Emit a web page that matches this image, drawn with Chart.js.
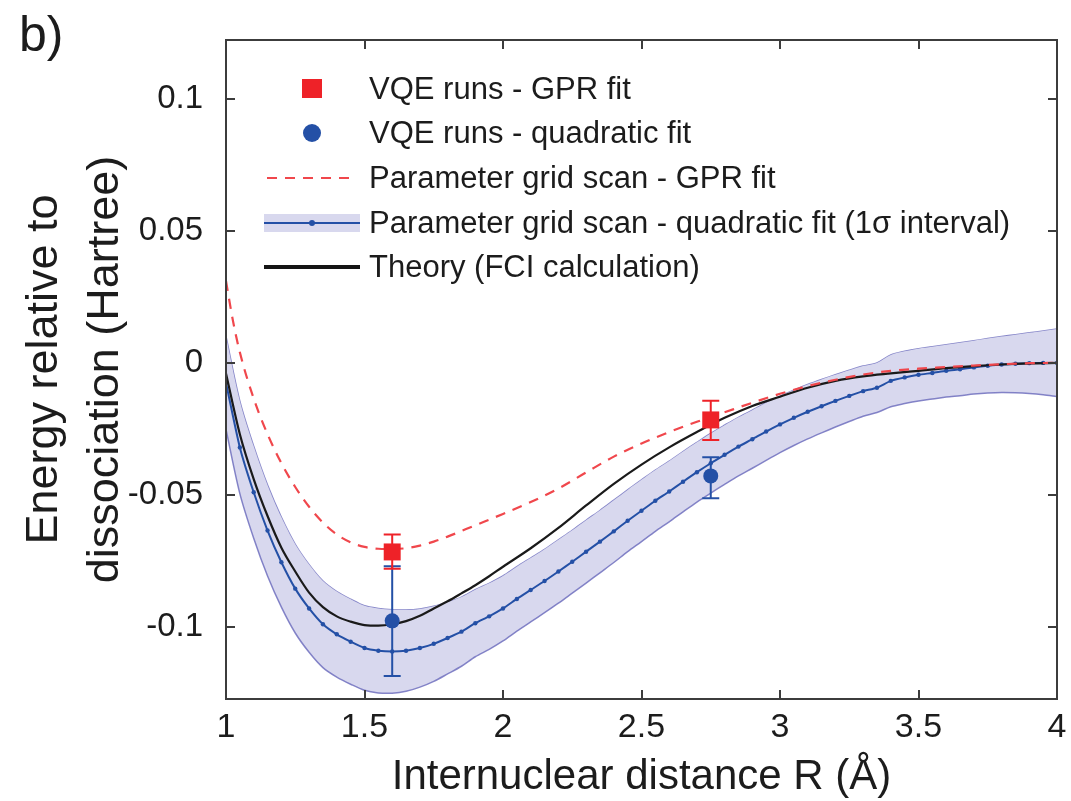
<!DOCTYPE html>
<html>
<head>
<meta charset="utf-8">
<script src="https://cdn.jsdelivr.net/npm/chart.js@4.4.1/dist/chart.umd.min.js"></script>
<style>
  html, body { margin: 0; padding: 0; background: #fff; }
  #wrap { position: relative; width: 1071px; height: 801px; }
</style>
</head>
<body>
<div id="wrap"><canvas id="chart" width="1071" height="801"></canvas></div>
<script>
// Axis ticks
const xTicks = [1, 1.5, 2, 2.5, 3, 3.5, 4];
const xTickLabels = ['1', '1.5', '2', '2.5', '3', '3.5', '4'];
const yTicks = [-0.1, -0.05, 0, 0.05, 0.1];
const yTickLabels = ['-0.1', '-0.05', '0', '0.05', '0.1'];

// Parameter grid scan - quadratic fit, sampled every 0.05 A
const scanR = [1.00, 1.05, 1.10, 1.15, 1.20, 1.25, 1.30, 1.35, 1.40, 1.45,
  1.50, 1.55, 1.60, 1.65, 1.70, 1.75, 1.80, 1.85, 1.90, 1.95,
  2.00, 2.05, 2.10, 2.15, 2.20, 2.25, 2.30, 2.35, 2.40, 2.45,
  2.50, 2.55, 2.60, 2.65, 2.70, 2.75, 2.80, 2.85, 2.90, 2.95,
  3.00, 3.05, 3.10, 3.15, 3.20, 3.25, 3.30, 3.35, 3.40, 3.45,
  3.50, 3.55, 3.60, 3.65, 3.70, 3.75, 3.80, 3.85, 3.90, 3.95, 4.00];
const scanQuad = [-0.0076, -0.0320, -0.0490, -0.0635, -0.0755, -0.0855, -0.0930, -0.0990, -0.1028, -0.1056,
  -0.1080, -0.1090, -0.1093, -0.1090, -0.1080, -0.1064, -0.1042, -0.1018, -0.0986, -0.0960,
  -0.0930, -0.0894, -0.0860, -0.0826, -0.0790, -0.0753, -0.0715, -0.0677, -0.0638, -0.0598,
  -0.0560, -0.0522, -0.0487, -0.0450, -0.0414, -0.0380, -0.0348, -0.0317, -0.0289, -0.0260,
  -0.0233, -0.0208, -0.0185, -0.0164, -0.0144, -0.0125, -0.0107, -0.0094, -0.0068, -0.0055,
  -0.0045, -0.0038, -0.0030, -0.0024, -0.0017, -0.0011, -0.0006, -0.0003, -0.0001, 0.0000, 0.0000];
const scanUpper = [0.0100, -0.0145, -0.0316, -0.0463, -0.0585, -0.0687, -0.0764, -0.0826, -0.0866, -0.0895,
  -0.0920, -0.0930, -0.0935, -0.0936, -0.0932, -0.0922, -0.0906, -0.0887, -0.0859, -0.0835,
  -0.0807, -0.0772, -0.0739, -0.0706, -0.0670, -0.0634, -0.0596, -0.0559, -0.0520, -0.0481,
  -0.0443, -0.0406, -0.0372, -0.0336, -0.0301, -0.0267, -0.0236, -0.0206, -0.0179, -0.0151,
  -0.0126, -0.0103, -0.0082, -0.0063, -0.0045, -0.0028, -0.0012, 0.0000, 0.0030, 0.0044,
  0.0054, 0.0061, 0.0069, 0.0076, 0.0084, 0.0092, 0.0100, 0.0107, 0.0114, 0.0121, 0.0128];
const scanLower = [-0.0252, -0.0495, -0.0664, -0.0807, -0.0925, -0.1023, -0.1096, -0.1154, -0.1190, -0.1217,
  -0.1240, -0.1250, -0.1251, -0.1244, -0.1228, -0.1206, -0.1178, -0.1149, -0.1113, -0.1085,
  -0.1053, -0.1016, -0.0981, -0.0946, -0.0910, -0.0872, -0.0834, -0.0795, -0.0756, -0.0715,
  -0.0677, -0.0638, -0.0602, -0.0564, -0.0527, -0.0493, -0.0460, -0.0428, -0.0399, -0.0369,
  -0.0340, -0.0313, -0.0288, -0.0265, -0.0243, -0.0222, -0.0202, -0.0188, -0.0166, -0.0154,
  -0.0144, -0.0137, -0.0129, -0.0124, -0.0118, -0.0114, -0.0112, -0.0113, -0.0116, -0.0121, -0.0128];

// Parameter grid scan - GPR fit
const gprR = [1.0, 1.025, 1.05, 1.1, 1.15, 1.2, 1.25, 1.3, 1.35, 1.4, 1.45, 1.5, 1.55, 1.6, 1.65,
  1.7, 1.75, 1.8, 1.9, 2.0, 2.1, 2.2, 2.3, 2.4, 2.5, 2.6, 2.7, 2.8, 2.9, 3.0,
  3.1, 3.2, 3.3, 3.4, 3.5, 3.6, 3.7, 3.8, 3.9, 4.0];
const gprE = [0.031, 0.016, 0.004, -0.0135, -0.027, -0.038, -0.047, -0.0545, -0.0605, -0.065, -0.068, -0.0697, -0.0704, -0.0705, -0.0702,
  -0.0692, -0.0677, -0.0658, -0.0615, -0.0572, -0.0527, -0.0476, -0.0415, -0.0355, -0.0305, -0.0262, -0.0223, -0.0187, -0.0151, -0.0117,
  -0.0088, -0.0064, -0.0044, -0.0030, -0.0022, -0.0016, -0.0010, -0.0005, -0.0001, 0.0];

// Theory (FCI calculation)
const theoryR = [1.0, 1.05, 1.1, 1.15, 1.2, 1.25, 1.3, 1.35, 1.4, 1.45, 1.5, 1.55, 1.6, 1.65, 1.7,
  1.75, 1.8, 1.85, 1.9, 1.95, 2.0, 2.1, 2.2, 2.3, 2.4, 2.5, 2.6, 2.7, 2.8, 2.9,
  3.0, 3.1, 3.2, 3.3, 3.4, 3.5, 3.6, 3.7, 3.8, 3.9, 4.0];
const theoryE = [-0.004, -0.027, -0.044, -0.058, -0.070, -0.079, -0.087, -0.0925, -0.096, -0.098, -0.0993, -0.0995, -0.0990, -0.0978, -0.0958,
  -0.0930, -0.0903, -0.0873, -0.0842, -0.0808, -0.0772, -0.0702, -0.0625, -0.0540, -0.0458, -0.0385, -0.0320, -0.0262, -0.0208, -0.0163,
  -0.0128, -0.0094, -0.0068, -0.0051, -0.0040, -0.0030, -0.0020, -0.0012, -0.0006, -0.0002, 0.0];

// VQE runs
const vqeR = [1.6, 2.75];
const vqeGpr = [-0.0716, -0.0216];
const vqeGprLo = [-0.0780, -0.0292];
const vqeGprHi = [-0.0650, -0.0143];
const vqeQuad = [-0.0977, -0.0428];
const vqeQuadLo = [-0.1186, -0.0513];
const vqeQuadHi = [-0.0770, -0.0357];

const legendLabels = [
  'VQE runs - GPR fit',
  'VQE runs - quadratic fit',
  'Parameter grid scan - GPR fit',
  'Parameter grid scan - quadratic fit (1\u03c3 interval)',
  'Theory (FCI calculation)'
];

const FONT = '"Liberation Sans", Arial, Helvetica, sans-serif';
const RED = '#ee2228';
const RED_DASH = '#f0474c';
const BLUE = '#2450a6';
const BAND_FILL = 'rgb(216, 216, 238)';
const BAND_EDGE = 'rgba(112, 112, 190, 0.85)';
const INK = '#1c1c1c';

const pts = (xs, ys) => xs.map((x, i) => ({ x: x, y: ys[i] }));

// Error bars drawn just before the marker dataset
const errorBars = {
    id: 'errorBars',
    beforeDatasetDraw(chart, args) {
        const ds = chart.data.datasets[args.index];
        if (!ds.errLo) return;
        const { ctx, scales: { x, y } } = chart;
        ctx.save();
        ctx.strokeStyle = ds.backgroundColor;
        ctx.lineWidth = 2;
        ctx.beginPath();
        vqeR.forEach((r, i) => {
            const px = x.getPixelForValue(r);
            const lo = y.getPixelForValue(ds.errLo[i]);
            const hi = y.getPixelForValue(ds.errHi[i]);
            ctx.moveTo(px, lo); ctx.lineTo(px, hi);
            ctx.moveTo(px - 8.5, lo); ctx.lineTo(px + 8.5, lo);
            ctx.moveTo(px - 8.5, hi); ctx.lineTo(px + 8.5, hi);
        });
        ctx.stroke();
        ctx.restore();
    }
};

// Box with inward ticks on all four sides
const frameTicks = {
    id: 'frameTicks',
    afterDatasetsDraw(chart) {
        const { ctx, chartArea: a, scales: { x, y } } = chart;
        ctx.save();
        ctx.strokeStyle = '#3c3c3c';
        ctx.lineWidth = 2;
        ctx.beginPath();
        xTicks.forEach(v => {
            const px = Math.round(x.getPixelForValue(v));
            ctx.moveTo(px, a.bottom); ctx.lineTo(px, a.bottom - 9);
            ctx.moveTo(px, a.top); ctx.lineTo(px, a.top + 9);
        });
        yTicks.forEach(v => {
            const py = Math.round(y.getPixelForValue(v));
            ctx.moveTo(a.left, py); ctx.lineTo(a.left + 9, py);
            ctx.moveTo(a.right, py); ctx.lineTo(a.right - 9, py);
        });
        ctx.stroke();
        ctx.strokeRect(a.left, a.top, a.right - a.left, a.bottom - a.top);
        ctx.restore();
    }
};

// Legend inside the plot plus the panel letter
const panelLegend = {
    id: 'panelLegend',
    afterDraw(chart) {
        const ctx = chart.ctx;
        const rows = [89, 133, 178, 223, 267];
        const symX = 264, symW = 96, textX = 369;
        ctx.save();

        // VQE GPR square
        ctx.fillStyle = RED;
        ctx.fillRect(symX + symW / 2 - 10, rows[0] - 10, 20, 19);
        // VQE quadratic circle
        ctx.fillStyle = BLUE;
        ctx.beginPath();
        ctx.arc(symX + symW / 2, rows[1], 9, 0, Math.PI * 2);
        ctx.fill();
        // GPR dashed line
        ctx.strokeStyle = RED_DASH;
        ctx.lineWidth = 2;
        ctx.setLineDash([10, 8]);
        ctx.beginPath();
        ctx.moveTo(symX + 3, rows[2]); ctx.lineTo(symX + symW - 6, rows[2]);
        ctx.stroke();
        ctx.setLineDash([]);
        // band patch
        ctx.fillStyle = BAND_FILL;
        ctx.fillRect(symX, rows[3] - 9, symW, 18);
        ctx.strokeStyle = BLUE;
        ctx.lineWidth = 2;
        ctx.beginPath();
        ctx.moveTo(symX, rows[3]); ctx.lineTo(symX + symW, rows[3]);
        ctx.stroke();
        ctx.fillStyle = BLUE;
        ctx.beginPath();
        ctx.arc(symX + symW / 2, rows[3], 3, 0, Math.PI * 2);
        ctx.fill();
        // theory line
        ctx.strokeStyle = '#151515';
        ctx.lineWidth = 4;
        ctx.beginPath();
        ctx.moveTo(symX, rows[4]); ctx.lineTo(symX + symW, rows[4]);
        ctx.stroke();

        ctx.fillStyle = INK;
        ctx.font = '31px ' + FONT;
        ctx.textBaseline = 'middle';
        ctx.textAlign = 'left';
        legendLabels.forEach((t, i) => ctx.fillText(t, textX, rows[i] + 1));

        ctx.font = '50px ' + FONT;
        ctx.textBaseline = 'alphabetic';
        ctx.fillText('b)', 19, 51);
        ctx.restore();
    }
};

new Chart(document.getElementById('chart'), {
    type: 'line',
    data: {
        datasets: [
            {
                label: 'band upper',
                data: pts(scanR, scanUpper),
                borderColor: BAND_EDGE,
                borderWidth: 1.5,
                pointRadius: 0,
                fill: false,
                tension: 0.3,
                order: 7
            },
            {
                label: 'band lower',
                data: pts(scanR, scanLower),
                borderColor: BAND_EDGE,
                borderWidth: 1.5,
                backgroundColor: BAND_FILL,
                pointRadius: 0,
                fill: '-1',
                tension: 0.3,
                order: 6
            },
            {
                label: legendLabels[3],
                data: pts(scanR, scanQuad),
                borderColor: BLUE,
                backgroundColor: BLUE,
                borderWidth: 2,
                pointRadius: 2.2,
                pointBorderWidth: 0,
                tension: 0.2,
                order: 5
            },
            {
                label: legendLabels[4],
                data: pts(theoryR, theoryE),
                borderColor: '#1a1a1a',
                borderWidth: 2.2,
                pointRadius: 0,
                cubicInterpolationMode: 'monotone',
                order: 4
            },
            {
                label: legendLabels[2],
                data: pts(gprR, gprE),
                borderColor: RED_DASH,
                borderWidth: 2.2,
                borderDash: [10, 8],
                pointRadius: 0,
                cubicInterpolationMode: 'monotone',
                order: 3
            },
            {
                label: legendLabels[1],
                data: pts(vqeR, vqeQuad),
                errLo: vqeQuadLo,
                errHi: vqeQuadHi,
                showLine: false,
                pointStyle: 'circle',
                pointRadius: 7.5,
                pointBorderWidth: 0,
                backgroundColor: BLUE,
                borderColor: BLUE,
                order: 2
            },
            {
                label: legendLabels[0],
                data: pts(vqeR, vqeGpr),
                errLo: vqeGprLo,
                errHi: vqeGprHi,
                showLine: false,
                pointStyle: 'rect',
                pointRadius: 12,
                pointBorderWidth: 0,
                backgroundColor: RED,
                borderColor: RED,
                order: 1
            }
        ]
    },
    options: {
        responsive: false,
        animation: false,
        devicePixelRatio: 1,
        events: [],
        layout: { padding: { top: 40, right: 14, left: 0, bottom: 0 } },
        plugins: {
            legend: { display: false },
            tooltip: { enabled: false }
        },
        scales: {
            x: {
                type: 'linear',
                min: 1,
                max: 4,
                grid: { display: false },
                border: { display: false },
                afterBuildTicks: s => { s.ticks = xTicks.map(v => ({ value: v })); },
                afterFit: s => { s.height = 102; },
                ticks: {
                    autoSkip: false,
                    maxRotation: 0,
                    padding: 0,
                    color: INK,
                    font: { family: FONT, size: 34 },
                    callback: (v) => xTickLabels[xTicks.indexOf(v)]
                },
                title: {
                    display: true,
                    text: 'Internuclear distance R (\u00c5)',
                    color: INK,
                    font: { family: FONT, size: 42, lineHeight: 1 },
                    padding: { top: 0, bottom: 3 }
                }
            },
            y: {
                type: 'linear',
                min: -0.1273,
                max: 0.1223,
                grid: { display: false },
                border: { display: false },
                afterBuildTicks: s => { s.ticks = yTicks.map(v => ({ value: v })); },
                afterFit: s => { s.width = 226; },
                ticks: {
                    autoSkip: false,
                    padding: 15,
                    color: INK,
                    font: { family: FONT, size: 33 },
                    callback: (v) => yTickLabels[yTicks.indexOf(v)]
                },
                title: {
                    display: true,
                    text: ['Energy relative to', 'dissociation (Hartree)'],
                    color: INK,
                    font: { family: FONT, size: 45, lineHeight: 61 / 45 },
                    padding: { top: 14, bottom: 0 }
                }
            }
        }
    },
    plugins: [errorBars, frameTicks, panelLegend]
});
</script>
</body>
</html>
